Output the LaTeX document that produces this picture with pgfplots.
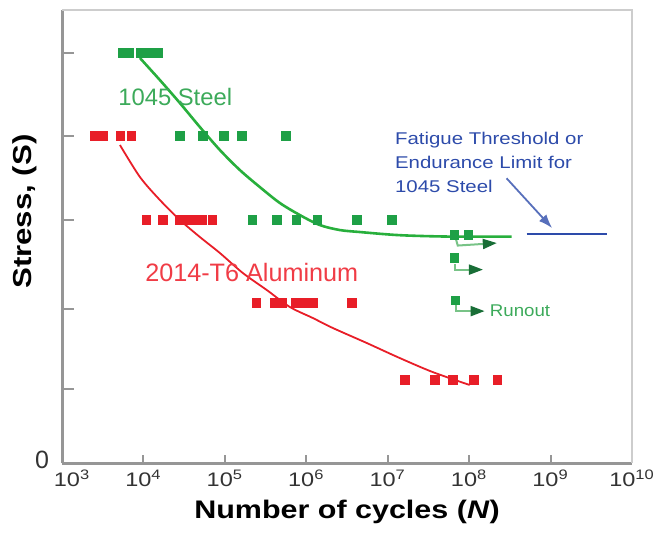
\documentclass[border=0pt]{standalone}
\usepackage{pgfplots}
\pgfplotsset{compat=1.18}
\usepackage{fontspec}
\setmainfont{Liberation Sans}
\newfontfamily\wide[FakeStretch=1.2]{Liberation Sans}
\newfontfamily\runfont[FakeStretch=1.1]{Liberation Sans}
\usetikzlibrary{arrows.meta}
\definecolor{sgreen}{RGB}{30,160,70}
\definecolor{cgreen}{RGB}{40,175,60}
\definecolor{lgreen}{RGB}{60,170,90}
\definecolor{rgreenline}{RGB}{120,195,135}
\definecolor{dkgreen}{RGB}{25,110,55}
\definecolor{sred}{RGB}{232,30,40}
\definecolor{lred}{RGB}{240,60,70}
\definecolor{bblue}{RGB}{45,75,170}
\definecolor{axgray}{RGB}{150,150,150}
\definecolor{framegray}{RGB}{205,205,205}
\begin{document}
\begin{tikzpicture}
\begin{axis}[
  scale only axis, width=285pt, height=226.5pt,
  xmin=3, xmax=10, ymin=0, ymax=5.458,
  enlargelimits=false,
  axis lines*=left,
  axis line style={-, draw=axgray, line width=1.5pt},
  xtick={3,4,5,6,7,8,9,10},
  xticklabels={\hspace*{10pt}10\textsuperscript{3},10\textsuperscript{4},10\textsuperscript{5},10\textsuperscript{6},10\textsuperscript{7},10\textsuperscript{8},10\textsuperscript{9},10\textsuperscript{10}},
  ytick={0,0.89,1.86,2.93,3.94,4.94},
  yticklabels={0,,,,,},
  tick align=inside,
  major tick style={draw=axgray, line width=1pt},
  xtick style={/pgfplots/major tick length=4pt},
  ytick style={/pgfplots/major tick length=6pt},
  xticklabel style={font=\wide\fontsize{9.8}{11}\selectfont, text=black!80},
  yticklabel style={font=\fontsize{12.5}{13}\selectfont, text=black!80, xshift=-3pt, yshift=1.5pt},
  xlabel={Number of cycles (\textit{N})},
  xlabel style={font=\wide\bfseries\fontsize{12.7}{14}\selectfont, at={(axis description cs:0.5,-0.1236)}, anchor=base},
  ylabel={Stress, (S)},
  ylabel style={font=\wide\bfseries\fontsize{13}{14}\selectfont, at={(axis description cs:-0.065,0.555)}, anchor=center},
  clip=false,
]
% frame top/right
\draw[framegray, line width=1pt] (rel axis cs:0,1) -- (rel axis cs:1,1) -- (rel axis cs:1,0);

% curves
\addplot[cgreen, line width=1.3pt, smooth, no marks] coordinates {
  (3.957,4.880) (4.202,4.614) (4.448,4.337) (4.693,4.048) (4.939,3.771)
  (5.184,3.530) (5.429,3.325) (5.675,3.133) (5.920,2.988) (6.166,2.867)
  (6.411,2.807) (6.656,2.783) (7.147,2.745) (7.761,2.728) (8.521,2.728)};
\addplot[sred, line width=0.9pt, smooth, no marks] coordinates {
  (3.712,3.831) (3.957,3.446) (4.202,3.169) (4.448,2.928) (4.693,2.723)
  (4.939,2.530) (5.221,2.289) (5.515,2.084) (5.798,1.880) (6.080,1.747)
  (6.325,1.627) (6.742,1.446) (7.147,1.265) (7.552,1.096) (8.006,0.940)};

% green data
\addplot[only marks, mark=square*, mark size=2.1pt, color=sgreen] coordinates {
  (3.74,4.94) (3.83,4.94) (3.96,4.94) (4.06,4.94) (4.18,4.94)
  (4.45,3.94) (4.73,3.94) (4.99,3.94) (5.21,3.94) (5.75,3.94)
  (5.34,2.93) (5.64,2.93) (5.88,2.93) (6.14,2.93) (6.62,2.93) (7.05,2.93)
  (7.82,2.75) (7.99,2.75) (7.82,2.47) (7.83,1.96)};
% red data
\addplot[only marks, mark=square*, mark size=2.1pt, color=sred] coordinates {
  (3.40,3.94) (3.50,3.94) (3.72,3.94) (3.85,3.94)
  (4.04,2.93) (4.24,2.93) (4.45,2.93) (4.53,2.93) (4.61,2.93) (4.72,2.93) (4.85,2.93)
  (5.39,1.93) (5.61,1.93) (5.71,1.93) (5.87,1.93) (5.96,1.93) (6.08,1.93) (6.56,1.93)
  (7.21,1.0) (7.58,1.0) (7.80,1.0) (8.06,1.0) (8.35,1.0)};

% runout arrows
\addplot[rgreenline, line width=1pt, -{Triangle[length=7pt,width=5pt,color=dkgreen]}] coordinates {
  (7.84,2.69) (7.86,2.62) (8.34,2.65)};
\addplot[rgreenline, line width=1pt, -{Triangle[length=7pt,width=5pt,color=dkgreen]}] coordinates {
  (7.83,2.40) (7.83,2.33) (8.17,2.33)};
\addplot[rgreenline, line width=1pt, -{Triangle[length=7pt,width=5pt,color=dkgreen]}] coordinates {
  (7.84,1.90) (7.84,1.83) (8.19,1.83)};

% endurance limit
\addplot[bblue, line width=1.1pt, no marks] coordinates {(8.705,2.76) (9.687,2.76)};
\addplot[bblue!80, line width=0.9pt, -{Latex[length=7pt,width=5pt]}] coordinates {(8.46,3.43) (9.02,2.83)};

% labels
\node[anchor=west, inner sep=0, text=lgreen, font=\fontsize{11.9}{13}\selectfont] at (axis cs:3.687,4.41) {1045 Steel};
\node[anchor=west, inner sep=0, text=lred, font=\fontsize{12.6}{14}\selectfont] at (axis cs:4.018,2.30) {2014-T6 Aluminum};
\node[anchor=west, inner sep=0, text=lgreen, font=\runfont\fontsize{8.5}{10}\selectfont] at (axis cs:8.25,1.83) {Runout};
\node[anchor=north west, inner sep=0, align=left, text=bblue, font=\wide\fontsize{8.5}{12}\selectfont] at (axis cs:7.086,3.99) {Fatigue Threshold or\\Endurance Limit for\\1045 Steel};
\end{axis}
\pgfresetboundingbox
\path ([xshift=-31pt,yshift=-38.5pt]current axis.south west) rectangle ([xshift=11.5pt,yshift=5pt]current axis.north east);
\end{tikzpicture}
\end{document}
